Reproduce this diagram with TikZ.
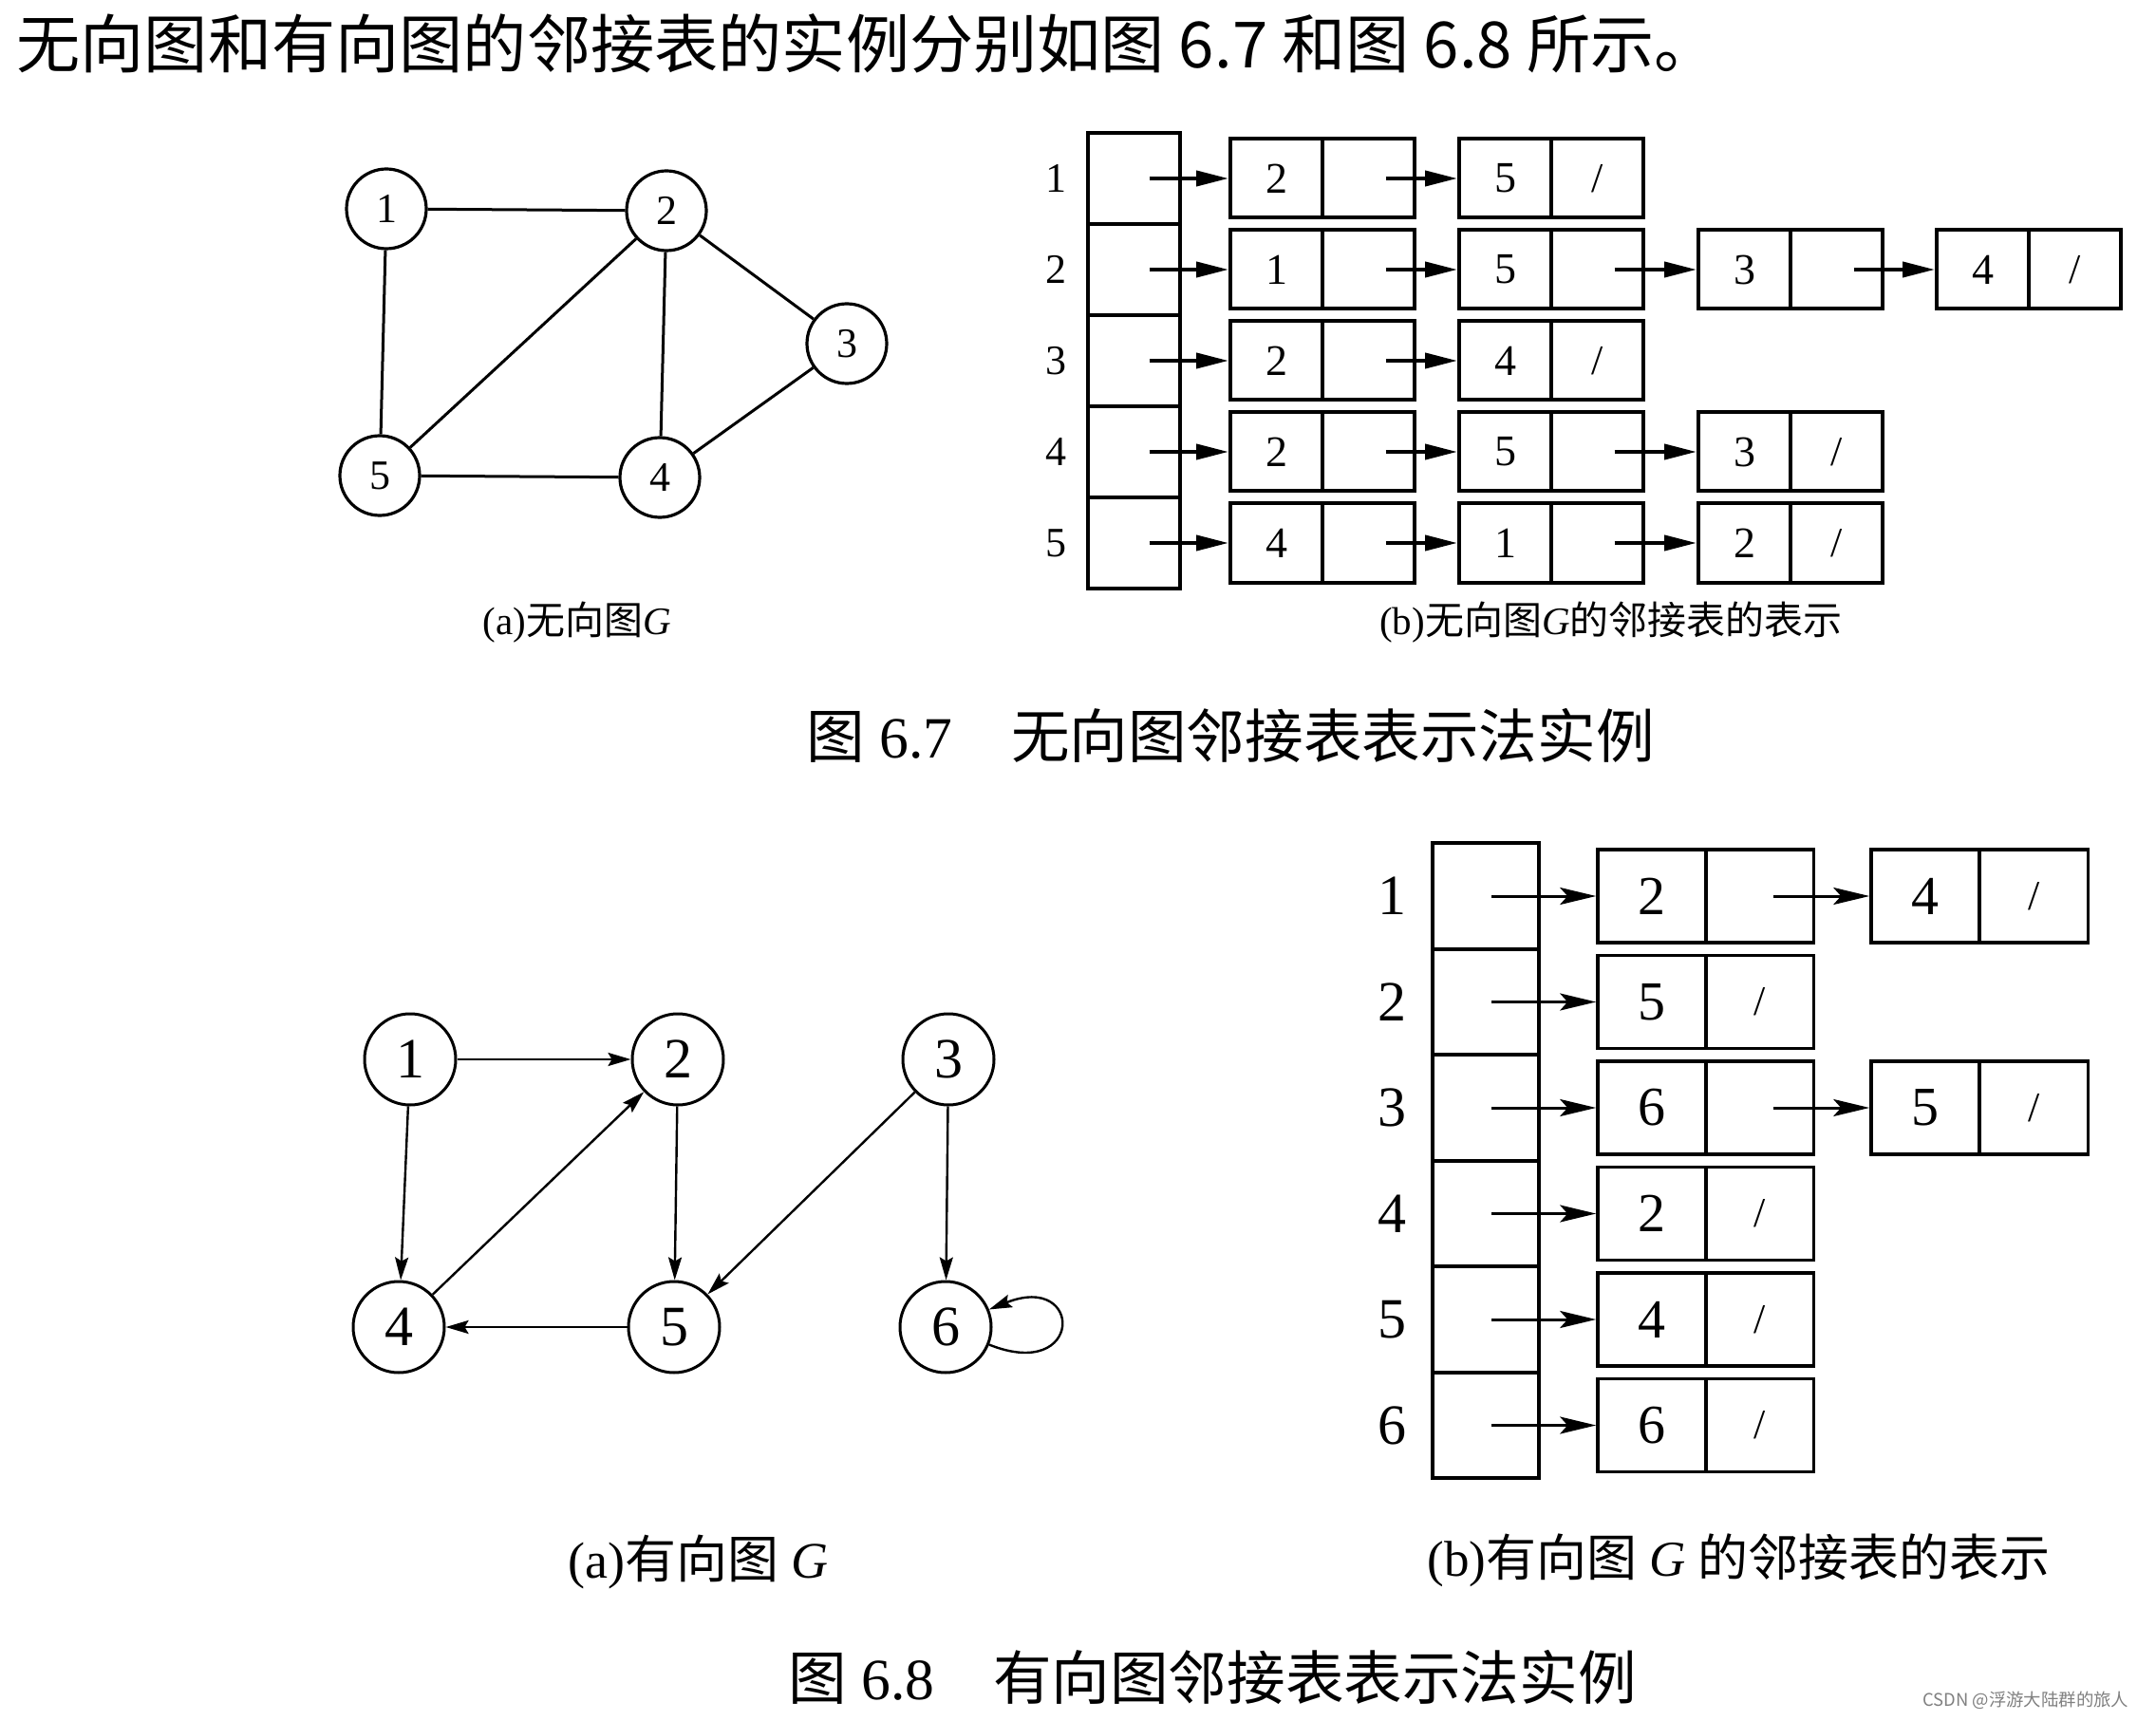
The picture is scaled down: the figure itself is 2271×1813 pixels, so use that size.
\documentclass[tikz,border=0pt]{standalone}
\usepackage{fontspec}
\setmainfont{Liberation Serif}
\newfontfamily\cjk{Noto Sans CJK SC}
\usetikzlibrary{arrows.meta}
\begin{document}
\begin{tikzpicture}[x=0.5pt,y=-0.5pt,
  gnode/.style={circle,draw,line width=1.6pt,minimum size=42pt,inner sep=0pt,font=\fontsize{22}{22}\selectfont},
  dnode/.style={circle,draw,line width=1.5pt,minimum size=48pt,inner sep=0pt,font=\fontsize{30}{30}\selectfont},
  gedge/.style={line width=1.5pt},
  darrow/.style={line width=1.2pt,-{Stealth[length=12pt,width=7pt,inset=2pt]}},
  thead/.style={draw,line width=2pt,minimum width=48.5pt,minimum height=48pt,inner sep=0pt},
  tcell/.style={draw,line width=2pt,minimum width=48.5pt,minimum height=41.5pt,inner sep=0pt,font=\fontsize{23}{23}\selectfont},
  tlabel/.style={font=\fontsize{22}{22}\selectfont},
  tarrow/.style={line width=2pt,-{Triangle[length=17pt,width=8pt]}},
  bhead/.style={draw,line width=1.8pt,minimum width=56pt,minimum height=55.75pt,inner sep=0pt},
  bcell/.style={draw,line width=1.8pt,minimum width=57pt,minimum height=49pt,inner sep=0pt,font=\fontsize{29}{29}\selectfont},
  blabel/.style={font=\fontsize{30}{30}\selectfont},
  barrow/.style={line width=1.5pt,-{Stealth[length=19pt,width=9pt,inset=4pt]}},
  slash/.style={font=\fontsize{22}{22}\selectfont}
]
\path[use as bounding box,fill=white] (0,0) rectangle (2271,1813);

% top line
\node[anchor=west,inner sep=0pt,font=\cjk\fontsize{33.6}{33.6}\selectfont] (intro) at (17,46) {无向图和有向图的邻接表的实例分别如图 6.7 和图 6.8 所示。};

% ---------- Fig 6.7 (a) undirected graph ----------
\node[gnode] (u1) at (407,220) {1};
\node[gnode] (u2) at (702,222) {2};
\node[gnode] (u3) at (892,362) {3};
\node[gnode] (u4) at (695,503) {4};
\node[gnode] (u5) at (400,501) {5};
\draw[gedge] (u1) -- (u2);
\draw[gedge] (u1) -- (u5);
\draw[gedge] (u2) -- (u5);
\draw[gedge] (u2) -- (u4);
\draw[gedge] (u2) -- (u3);
\draw[gedge] (u3) -- (u4);
\draw[gedge] (u5) -- (u4);
\node[font=\fontsize{20.5}{20.5}\selectfont] (capua) at (608,656) {(a){\cjk 无向图}\textit{G}};

% ---------- Fig 6.7 (b) adjacency list ----------
\foreach \i/\yy in {1/188,2/284,3/380,4/476,5/572}{
  \node[thead] (th\i) at (1194.5,\yy) {};
  \node[tlabel] (tl\i) at (1112,\yy) {\i};
}
% row 1
\node[tcell] (t1av) at (1344.5,188) {2}; \node[tcell] (t1ap) at (1441.5,188) {};
\node[tcell] (t1bv) at (1585.5,188) {5}; \node[tcell,slash] (t1bp) at (1682.5,188) {/};
% row 2
\node[tcell] (t2av) at (1344.5,284) {1}; \node[tcell] (t2ap) at (1441.5,284) {};
\node[tcell] (t2bv) at (1585.5,284) {5}; \node[tcell] (t2bp) at (1682.5,284) {};
\node[tcell] (t2cv) at (1837.5,284) {3}; \node[tcell] (t2cp) at (1934.5,284) {};
\node[tcell] (t2dv) at (2088.5,284) {4}; \node[tcell,slash] (t2dp) at (2185.5,284) {/};
% row 3
\node[tcell] (t3av) at (1344.5,380) {2}; \node[tcell] (t3ap) at (1441.5,380) {};
\node[tcell] (t3bv) at (1585.5,380) {4}; \node[tcell,slash] (t3bp) at (1682.5,380) {/};
% row 4
\node[tcell] (t4av) at (1344.5,476) {2}; \node[tcell] (t4ap) at (1441.5,476) {};
\node[tcell] (t4bv) at (1585.5,476) {5}; \node[tcell] (t4bp) at (1682.5,476) {};
\node[tcell] (t4cv) at (1837.5,476) {3}; \node[tcell,slash] (t4cp) at (1934.5,476) {/};
% row 5
\node[tcell] (t5av) at (1344.5,572) {4}; \node[tcell] (t5ap) at (1441.5,572) {};
\node[tcell] (t5bv) at (1585.5,572) {1}; \node[tcell] (t5bp) at (1682.5,572) {};
\node[tcell] (t5cv) at (1837.5,572) {2}; \node[tcell,slash] (t5cp) at (1934.5,572) {/};
% arrows
\foreach \i in {1,...,5}{
  \draw[tarrow] ([xshift=8pt]th\i.center) -- (t\i av.west);
  \draw[tarrow] ([xshift=9pt]t\i ap.center) -- (t\i bv.west);
}
\draw[tarrow] ([xshift=9pt]t2bp.center) -- (t2cv.west);
\draw[tarrow] ([xshift=9pt]t2cp.center) -- (t2dv.west);
\draw[tarrow] ([xshift=9pt]t4bp.center) -- (t4cv.west);
\draw[tarrow] ([xshift=9pt]t5bp.center) -- (t5cv.west);
\node[font=\fontsize{20.5}{20.5}\selectfont] (capub) at (1697,656) {(b){\cjk 无向图}\textit{G}{\cjk 的邻接表的表示}};

\node[anchor=west,font=\fontsize{30.8}{30.8}\selectfont,inner sep=0pt] (cap67) at (849,775) {{\cjk 图}~6.7\hspace{1.0em}{\cjk 无向图邻接表表示法实例}};

% ---------- Fig 6.8 (a) directed graph ----------
\node[dnode] (d1) at (432,1116) {1};
\node[dnode] (d2) at (714,1116) {2};
\node[dnode] (d3) at (999,1116) {3};
\node[dnode] (d4) at (420,1398) {4};
\node[dnode] (d5) at (710,1398) {5};
\node[dnode] (d6) at (996,1398) {6};
\draw[darrow] (d1) -- (d2);
\draw[darrow] (d1) -- (d4);
\draw[darrow] (d4) -- (d2);
\draw[darrow] (d2) -- (d5);
\draw[darrow] (d3) -- (d5);
\draw[darrow] (d3) -- (d6);
\draw[darrow] (d5) -- (d4);
\draw[darrow] (d6.-22) .. controls +(100,40) and +(100,-40) .. (d6.22);
\node[anchor=west,font=\fontsize{27}{27}\selectfont,inner sep=0pt] (capda) at (598,1646) {(a){\cjk 有向图} \textit{G}};

% ---------- Fig 6.8 (b) adjacency list ----------
\foreach \i/\yy in {1/944,2/1055.5,3/1167,4/1278.5,5/1390,6/1501.5}{
  \node[bhead] (bh\i) at (1565,\yy) {};
  \node[blabel] (bl\i) at (1466,\yy) {\i};
}
\node[bcell] (b1av) at (1740,944) {2}; \node[bcell] (b1ap) at (1853.5,944) {};
\node[bcell] (b1bv) at (2028,944) {4}; \node[bcell,slash] (b1bp) at (2142.5,944) {/};
\node[bcell] (b2av) at (1740,1055.5) {5}; \node[bcell,slash] (b2ap) at (1853.5,1055.5) {/};
\node[bcell] (b3av) at (1740,1167) {6}; \node[bcell] (b3ap) at (1853.5,1167) {};
\node[bcell] (b3bv) at (2028,1167) {5}; \node[bcell,slash] (b3bp) at (2142.5,1167) {/};
\node[bcell] (b4av) at (1740,1278.5) {2}; \node[bcell,slash] (b4ap) at (1853.5,1278.5) {/};
\node[bcell] (b5av) at (1740,1390) {4}; \node[bcell,slash] (b5ap) at (1853.5,1390) {/};
\node[bcell] (b6av) at (1740,1501.5) {6}; \node[bcell,slash] (b6ap) at (1853.5,1501.5) {/};
\foreach \i in {1,...,6}{
  \draw[barrow] ([xshift=3pt]bh\i.center) -- (b\i av.west);
}
\draw[barrow] ([xshift=7pt]b1ap.center) -- (b1bv.west);
\draw[barrow] ([xshift=7pt]b3ap.center) -- (b3bv.west);
\node[anchor=west,font=\fontsize{26.5}{26.5}\selectfont,inner sep=0pt] (capdb) at (1503,1644) {(b){\cjk 有向图} \textit{G} {\cjk 的邻接表的表示}};

\node[anchor=west,font=\fontsize{30.8}{30.8}\selectfont,inner sep=0pt] (cap68) at (830,1767) {{\cjk 图}~6.8\hspace{1.0em}{\cjk 有向图邻接表表示法实例}};

% watermark
\node[anchor=west,inner sep=0pt,text=gray,font=\cjk\fontsize{9.2}{9.2}\selectfont] (wm) at (2025,1791) {CSDN @浮游大陆群的旅人};
\end{tikzpicture}
\end{document}
